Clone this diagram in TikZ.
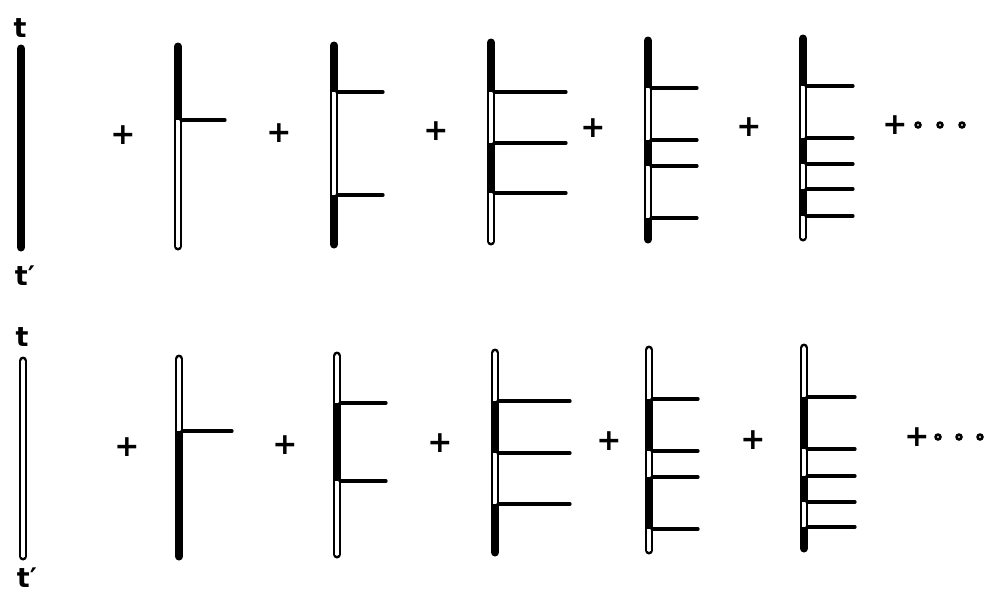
\documentclass[tikz,border=0pt]{standalone}
\usepackage{fontspec}
\setmainfont{DejaVu Sans}
\newcommand\gapseg[3]{\draw[hole] (#1,#2) -- (#1,#3);}
\newcommand\capend[2]{\fill[white] (#1,#2) circle (1.6pt);}
\newcommand\rungset[3]{\foreach \yy in {#2} {\draw[rung] ({#1+3},\yy) -- (#3,\yy);}}
\tikzset{
  strand/.style={line width=8pt, line cap=round},
  hole/.style={white, line width=3.4pt, line cap=butt},
  rung/.style={line width=3.2pt, line cap=round},
  plus/.style={font=\bfseries\fontsize{30}{32}\selectfont, inner sep=0pt},
  lab/.style={font=\bfseries\fontsize{27}{30}\selectfont, inner sep=0pt},
  dotc/.style={draw, line width=2.6pt, fill=white},
}
\begin{document}
\begin{tikzpicture}[x=1pt,y=-1pt]
\useasboundingbox (0,0) rectangle (984,598);
% labels
\node[lab] (t1) at (20,28) {t};
\node[lab] (t1p) at (25,276) {t′};
\node[lab] (t2) at (22,337) {t};
\node[lab] (t2p) at (27,578) {t′};
% ---------- top row ----------
\draw[strand] (21,48.5) -- (21,247.5);
\draw[strand] (178,46.5) -- (178,246.5);
\gapseg{178}{120}{246.5}\capend{178}{246.5}
\rungset{178}{120}{225}
\draw[strand] (334,45.5) -- (334,244.5);
\gapseg{334}{92}{195}
\rungset{334}{92,195}{383}
\draw[strand] (491,42.5) -- (491,241.5);
\gapseg{491}{92}{143}\gapseg{491}{193}{241.5}\capend{491}{241.5}
\rungset{491}{92,143,193}{566}
\draw[strand] (648,40.5) -- (648,239.5);
\gapseg{648}{88}{140}\gapseg{648}{166}{218}
\rungset{648}{88,140,166,218}{697}
\draw[strand] (803,38.5) -- (803,237.5);
\gapseg{803}{86}{138}\gapseg{803}{164}{189}\gapseg{803}{216}{237.5}\capend{803}{237.5}
\rungset{803}{86,138,164,189,216}{853}
\node[plus] (p11) at (123,135) {+};
\node[plus] (p12) at (279,133) {+};
\node[plus] (p13) at (436,131) {+};
\node[plus] (p14) at (593,128) {+};
\node[plus] (p15) at (749,127) {+};
\node[plus] (p16) at (895,125) {+};
\draw[dotc] (918,125) circle (2.4pt);
\draw[dotc] (940,125) circle (2.4pt);
\draw[dotc] (962,125) circle (2.4pt);
% ---------- bottom row ----------
\draw[strand] (23,360.5) -- (23,556.5);
\gapseg{23}{360.5}{556.5}\capend{23}{360.5}\capend{23}{556.5}
\draw[strand] (179,358.5) -- (179,556.5);
\gapseg{179}{358.5}{431}\capend{179}{358.5}
\rungset{179}{431}{232}
\draw[strand] (337,355.5) -- (337,554.5);
\gapseg{337}{355.5}{403}\gapseg{337}{481}{554.5}\capend{337}{355.5}\capend{337}{554.5}
\rungset{337}{403,481}{386}
\draw[strand] (495,352.5) -- (495,552.5);
\gapseg{495}{352.5}{401}\gapseg{495}{453}{504}\capend{495}{352.5}
\rungset{495}{401,453,504}{570}
\draw[strand] (649,349.5) -- (649,550.5);
\gapseg{649}{349.5}{399}\gapseg{649}{451}{477}\gapseg{649}{529}{550.5}\capend{649}{349.5}\capend{649}{550.5}
\rungset{649}{399,451,477,529}{698}
\draw[strand] (804,347.5) -- (804,548.5);
\gapseg{804}{347.5}{397}\gapseg{804}{449}{476}\gapseg{804}{502}{527}\capend{804}{347.5}
\rungset{804}{397,449,476,502,527}{855}
\node[plus] (p21) at (127,447) {+};
\node[plus] (p22) at (285,445) {+};
\node[plus] (p23) at (440,443) {+};
\node[plus] (p24) at (609,441) {+};
\node[plus] (p25) at (753,440) {+};
\node[plus] (p26) at (917,437) {+};
\draw[dotc] (938,437) circle (2.4pt);
\draw[dotc] (959,437) circle (2.4pt);
\draw[dotc] (980,437) circle (2.4pt);
\end{tikzpicture}
\end{document}
